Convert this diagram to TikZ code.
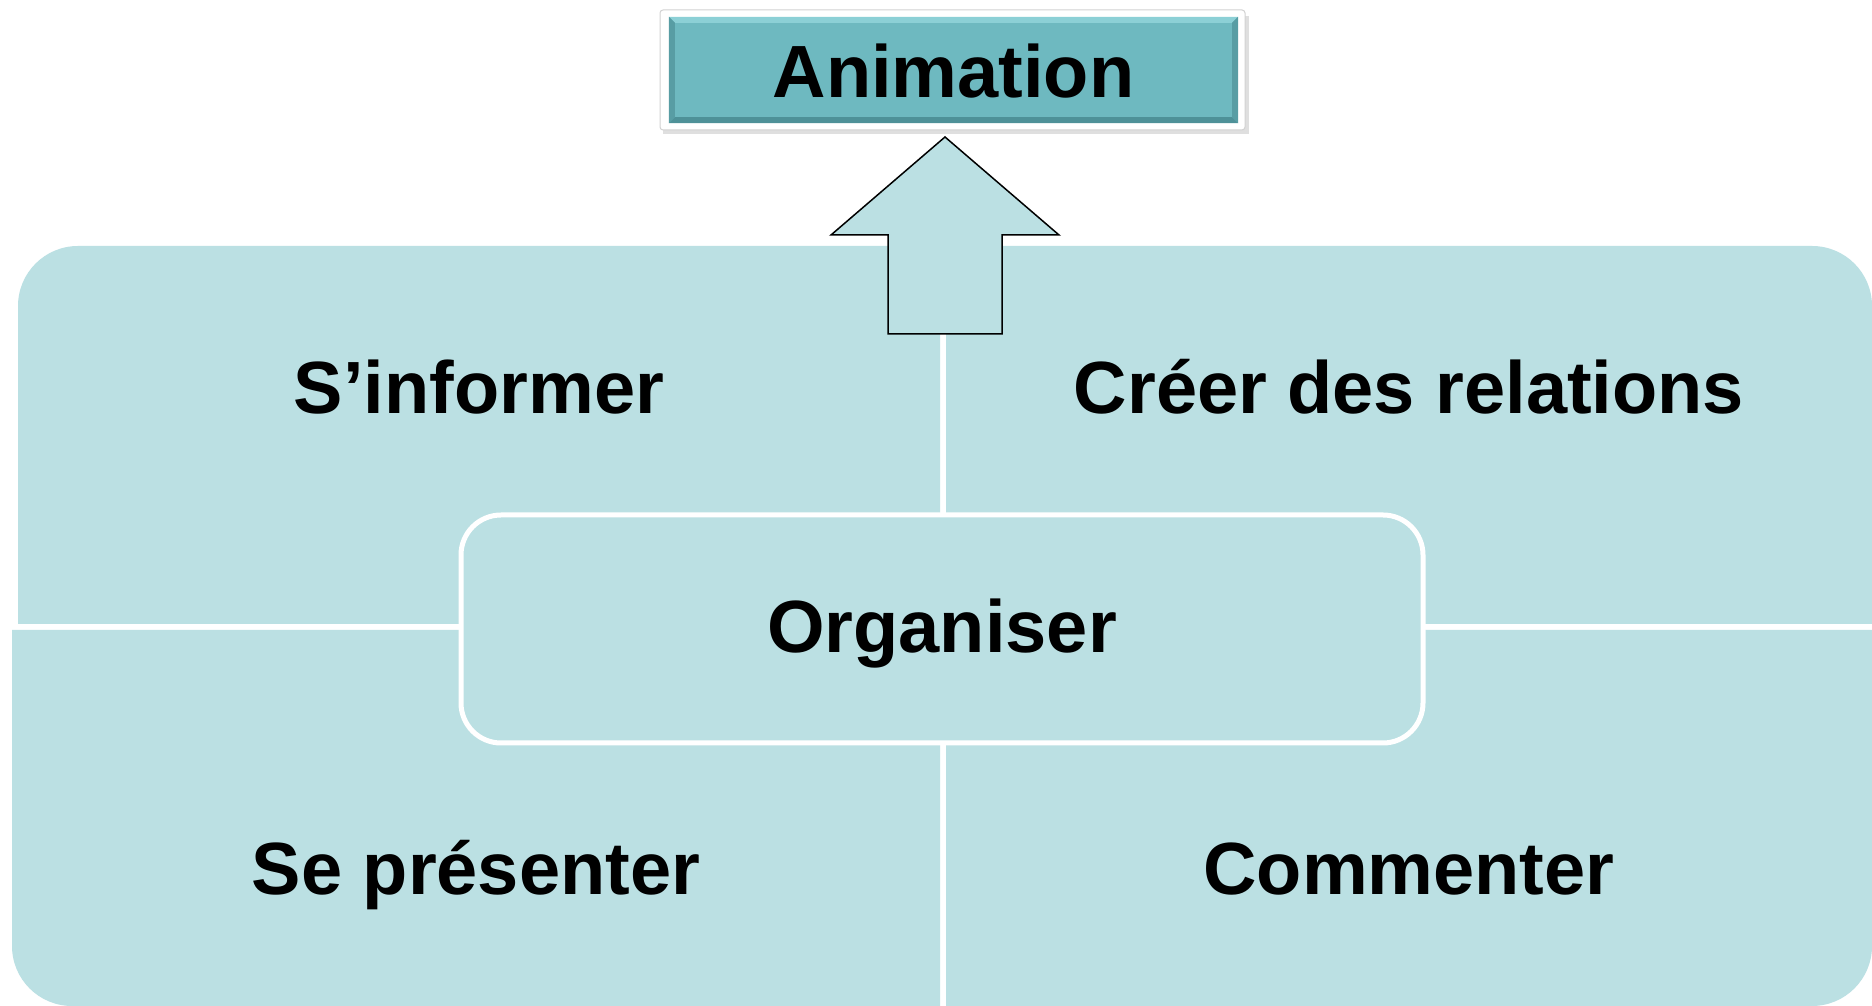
\documentclass[tikz,border=0pt]{standalone}
\usepackage{fontspec}
\setmainfont{Liberation Sans}

\definecolor{quadfill}{RGB}{187,224,227}
\definecolor{titlefill}{RGB}{110,185,192}
\definecolor{titlelight}{RGB}{140,208,214}
\definecolor{titledark}{RGB}{78,145,152}

\tikzset{
  bigtext/.style={font=\fontsize{74}{80}\selectfont\bfseries, inner sep=0pt},
  quadtext/.style={bigtext, anchor=base},
  quadrant/.style={fill=quadfill},
  centerbox/.style={bigtext, draw=white, line width=5pt, fill=quadfill, rounded corners=40pt,
    minimum width=962pt, minimum height=228pt, text height=48pt, text depth=0pt},
  titleframe/.style={draw=gray!35, line width=1pt, fill=white, rounded corners=3pt,
    minimum width=585pt, minimum height=120pt, inner sep=0pt},
  titlebox/.style={bigtext, fill=titlefill, minimum width=569pt, minimum height=106pt,
    text height=56pt, text depth=0pt},
  blockarrow/.style={draw=black, line width=1.5pt, fill=quadfill, line join=miter}
}

\begin{document}
\begin{tikzpicture}[x=1pt, y=1pt]
    \useasboundingbox (0,0) rectangle (1872,1006);
    \fill[white] (0,0) rectangle (1872,1006);

    % Les quatre quadrants
    \fill[quadrant] (18,382) -- (18,700) arc[start angle=180, end angle=90, radius=60] -- (940,760) -- (940,382) -- cycle;
    \fill[quadrant] (946,382) -- (946,760) -- (1812,760) arc[start angle=90, end angle=0, radius=60] -- (1872,382) -- cycle;
    \fill[quadrant] (12,376) -- (12,60) arc[start angle=180, end angle=270, radius=60] -- (940,0) -- (940,376) -- cycle;
    \fill[quadrant] (946,376) -- (946,0) -- (1812,0) arc[start angle=270, end angle=360, radius=60] -- (1872,376) -- cycle;

    % Textes des quadrants
    \node[quadtext] (informer) at (479,592) {S’informer};
    \node[quadtext] (relations) at (1409,592) {Créer des relations};
    \node[quadtext] (presenter) at (476,111) {Se présenter};
    \node[quadtext] (commenter) at (1409,111) {Commenter};

    % Bloc central
    \node[centerbox] (organiser) at (942,377) {Organiser};

    % Titre
    \fill[gray!25] (663,872) rectangle (1249,990);
    \node[titleframe] (frame) at (952.5,936) {};
    \node[titlebox] (animation) at (953.5,936) {Animation};
    \fill[titlelight] (animation.north west) -- (animation.north east)
        -- ([xshift=-6pt,yshift=-6pt]animation.north east) -- ([xshift=6pt,yshift=-6pt]animation.north west) -- cycle;
    \fill[titledark] (animation.south west) -- (animation.south east)
        -- ([xshift=-6pt,yshift=6pt]animation.south east) -- ([xshift=6pt,yshift=6pt]animation.south west) -- cycle;
    \fill[titledark!70!titlefill] (animation.north west) -- ([xshift=6pt,yshift=-6pt]animation.north west)
        -- ([xshift=6pt,yshift=6pt]animation.south west) -- (animation.south west) -- cycle;
    \fill[titledark!70!titlefill] (animation.north east) -- ([xshift=-6pt,yshift=-6pt]animation.north east)
        -- ([xshift=-6pt,yshift=6pt]animation.south east) -- (animation.south east) -- cycle;

    % Fleche vers le titre
    \coordinate (tip) at (945,869);
    \draw[blockarrow] (tip) -- ++(114,-98) -- ++(-57,0) -- ++(0,-99) -- ++(-114,0) -- ++(0,99) -- ++(-57,0) -- cycle;
\end{tikzpicture}
\end{document}
